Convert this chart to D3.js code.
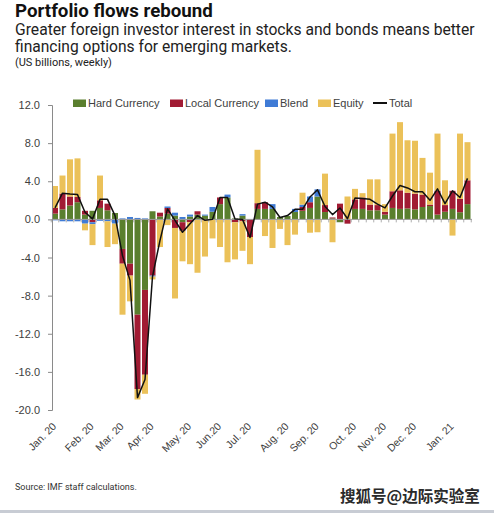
<!DOCTYPE html>
<html><head><meta charset="utf-8">
<script src="https://cdn.jsdelivr.net/npm/d3@7"></script>
<style>
html,body{margin:0;padding:0;background:#fff;}
svg{display:block;}
</style></head>
<body>
<svg id="chart" width="494" height="513"></svg>
<script>
// ---------------- DATA ----------------
const weeks = [
 "2020-01-03","2020-01-10","2020-01-17","2020-01-24","2020-01-31","2020-02-07","2020-02-14","2020-02-21","2020-02-28",
 "2020-03-06","2020-03-13","2020-03-20","2020-03-27","2020-04-03","2020-04-10","2020-04-17","2020-04-24","2020-05-01",
 "2020-05-08","2020-05-15","2020-05-22","2020-05-29","2020-06-05","2020-06-12","2020-06-19","2020-06-26","2020-07-03",
 "2020-07-10","2020-07-17","2020-07-24","2020-07-31","2020-08-07","2020-08-14","2020-08-21","2020-08-28","2020-09-04",
 "2020-09-11","2020-09-18","2020-09-25","2020-10-02","2020-10-09","2020-10-16","2020-10-23","2020-10-30","2020-11-06",
 "2020-11-13","2020-11-20","2020-11-27","2020-12-04","2020-12-11","2020-12-18","2020-12-25","2021-01-01","2021-01-08",
 "2021-01-15","2021-01-22"];
const hardCurrency = [0.6,1.05,1.45,1.8,0.5,0.9,1.2,0.95,0.67,-3.1,-4.65,-10.0,-7.4,0.85,0.3,0.6,0.4,-0.3,0.3,0.5,0.4,0.8,1.6,2.3,0.1,0.4,0,1.1,1.1,1.1,0.25,0.35,0.77,0.9,1.2,2.4,0.77,0.1,-0.3,0,1.1,1.1,0.95,0.95,0.5,1.2,1.1,1.15,1.05,1.3,1.4,0.5,0.8,1.1,0.75,1.6];
const localCurrency = [0.6,1.65,0.95,0.55,0.4,-0.3,0.8,0.7,0,-1.55,-1.25,-7.8,-8.9,-5.9,0.4,0.6,-0.9,-0.9,-0.3,0.35,-0.1,0,0.7,0,-0.3,-0.2,-1.85,0.6,0.7,0,0,0,0,0.4,0.6,0,0.73,0.1,1.65,-0.45,1.0,1.2,0.6,0.55,0.3,1.75,1.95,1.65,1.65,1.3,0.15,2.5,0.7,1.9,1.4,2.5];
const blend = [-0.1,-0.2,-0.2,-0.2,-0.45,-0.2,-0.15,-0.2,-0.45,0.1,0.25,0.15,0.1,-0.1,0,0.15,0.3,0.25,0.2,0,0.1,0.5,0,0.3,0,0.15,0,0,0,0.5,0,0,0.33,0.25,0.6,0.75,0,0,0,0,0,0,0,0,0,0,0,0,0,0,0,0,0,0,0,0];
const equity = [2.3,1.9,3.9,4.05,-0.7,-2.2,2.6,-2.7,-2.15,-5.35,-2.7,-1.1,-2.0,-0.3,-2.9,-0.6,-7.4,-3.2,-4.4,-5.6,-3.8,-2.0,-2.9,-4.5,-3.9,-3.1,-2.85,5.6,-1.75,-3.0,-1.0,-2.7,-1.6,1.25,-1.4,-1.35,3.3,-2.4,0,2.4,1.1,0.45,2.65,2.7,0.8,6.05,7.15,5.5,5.55,3.85,3.35,6.0,2.6,-1.7,6.85,4.0];
const total = [1.2,2.75,2.65,2.6,0.75,0.05,2.1,2.1,0.4,-3.8,-6.4,-18.7,-16.8,-6.0,-2.2,1.1,-0.1,-1.35,-0.45,0.4,-0.1,0.0,2.3,2.3,0.05,0.0,-1.9,1.6,1.8,1.3,0.2,0.4,1.05,1.05,2.35,3.1,1.35,0.5,1.2,0.07,2.25,2.2,2.1,1.6,1.2,2.45,3.55,3.3,2.9,2.9,2.0,3.2,1.65,3.0,2.3,4.3];

const seriesNames = ["Hard Currency","Local Currency","Blend","Equity"];
const seriesColors = ["#5a7f2e","#a11b33","#3f7bd6","#ebc159"];
const yTicks = [12,8,4,0,-4,-8,-12,-16,-20];
const monthTickWeeks = ["2020-01-03","2020-02-07","2020-03-06","2020-04-03","2020-05-08","2020-06-05","2020-07-03","2020-08-07","2020-09-04","2020-10-09","2020-11-06","2020-12-04","2021-01-08"];
const monthTickLabels = ["Jan. 20","Feb. 20","Mar. 20","Apr. 20","May. 20","Jun.20","Jul. 20","Aug. 20","Sep. 20","Oct. 20","Nov. 20","Dec. 20","Jan. 21"];

// ---------------- CHART ----------------
const svg = d3.select("#chart");
const FONT = "Roboto, 'Liberation Sans', Arial, sans-serif";
const AXFONT = "'Liberation Sans', Arial, sans-serif";

function fitText(sel, target){
  const base = 20;
  sel.attr("font-size", base);
  const w = sel.node().getComputedTextLength();
  sel.attr("font-size", base * target / w);
  return sel;
}

// titles
fitText(svg.append("text").attr("x",15).attr("y",17).attr("font-family",FONT).attr("font-weight","bold").attr("fill","#111").text("Portfolio flows rebound"),198);
fitText(svg.append("text").attr("x",15).attr("y",35).attr("font-family",FONT).attr("fill","#222").text("Greater foreign investor interest in stocks and bonds means better"),460);
fitText(svg.append("text").attr("x",15).attr("y",52).attr("font-family",FONT).attr("fill","#222").text("financing options for emerging markets."),277);
fitText(svg.append("text").attr("x",15).attr("y",66).attr("font-family",FONT).attr("fill","#222").text("(US billions, weekly)"),97);

// scales
const x = d3.scaleBand().domain(weeks).range([51.25,471.25]).paddingInner(0.2).paddingOuter(0.1);
const y = d3.scaleLinear().domain([-20,12]).range([410,105]);

const rows = weeks.map((w,i)=>({week:w,"Hard Currency":hardCurrency[i],"Local Currency":localCurrency[i],"Blend":blend[i],"Equity":equity[i]}));
const stack = d3.stack().keys(seriesNames).offset(d3.stackOffsetDiverging);
const stacked = stack(rows);

const g = svg.append("g");
stacked.forEach((s,k)=>{
  g.append("g").attr("fill",seriesColors[k]).selectAll("rect").data(s).join("rect")
    .attr("x",d=>x(d.data.week))
    .attr("width",x.bandwidth())
    .attr("y",d=>y(Math.max(d[0],d[1])))
    .attr("height",d=>Math.abs(y(d[0])-y(d[1])));
});

// zero axis with category ticks
const zeroY = y(0);
const xa = svg.append("g").attr("transform",`translate(0,${zeroY})`);
xa.append("line").attr("x1",52).attr("x2",472).attr("y1",0).attr("y2",0).attr("stroke","#9a9a9a").attr("stroke-width",1);
xa.selectAll("line.tk").data(d3.range(weeks.length+1)).join("line").attr("class","tk")
  .attr("x1",i=>x(weeks[0]) - x.step()*x.paddingInner()/2 + i*x.step())
  .attr("x2",i=>x(weeks[0]) - x.step()*x.paddingInner()/2 + i*x.step())
  .attr("y1",0).attr("y2",3).attr("stroke","#9a9a9a").attr("stroke-width",0.8);

// y axis
const yAxis = d3.axisLeft(y).tickValues(yTicks).tickSize(4).tickFormat(d3.format(".1f"));
const ya = svg.append("g").attr("transform","translate(52,0)").call(yAxis);
ya.select(".domain").attr("stroke","#8a8a8a");
ya.selectAll(".tick line").attr("stroke","#8a8a8a");
ya.selectAll(".tick text").attr("font-family",AXFONT).attr("font-size",11).attr("fill","#404040").attr("x",-12).text(d=>d3.format(".1f")(d).replace("−","-"));

// total line
const line = d3.line().x((d,i)=>x(weeks[i])+x.bandwidth()/2).y(d=>y(d));
svg.append("path").datum(total).attr("d",line).attr("fill","none").attr("stroke","#111").attr("stroke-width",1.5).attr("stroke-linejoin","round");

// month labels
svg.append("g").selectAll("text").data(monthTickWeeks).join("text")
  .attr("transform",(w)=>`translate(${x(w)+x.bandwidth()/2+2},${427}) rotate(-45)`)
  .attr("text-anchor","end").attr("font-family",AXFONT).attr("font-size",10.5).attr("fill","#404040")
  .text((w,i)=>monthTickLabels[i]);

// legend
const legendX = [73,170,265,318];
seriesNames.forEach((n,k)=>{
  svg.append("rect").attr("x",legendX[k]).attr("y",99.5).attr("width",13).attr("height",7.5).attr("fill",seriesColors[k]);
  svg.append("text").attr("x",legendX[k]+15).attr("y",107).attr("font-family",AXFONT).attr("font-size",11).attr("fill","#404040").text(n);
});
svg.append("line").attr("x1",373).attr("x2",387).attr("y1",103).attr("y2",103).attr("stroke","#111").attr("stroke-width",2);
svg.append("text").attr("x",389).attr("y",107).attr("font-family",AXFONT).attr("font-size",11).attr("fill","#404040").text("Total");

// source
fitText(svg.append("text").attr("x",15).attr("y",490).attr("font-family",FONT).attr("fill","#333").text("Source: IMF staff calculations."),122);

// watermark
fitText(svg.append("text").attr("x",340).attr("y",502).attr("font-family","'Noto Sans CJK SC', sans-serif").attr("font-weight","bold").attr("fill","#2a2a2a")
  .attr("stroke","#fff").attr("stroke-width",1.5).attr("paint-order","stroke").text("搜狐号@边际实验室"),140);

// bottom bar
svg.append("rect").attr("x",0).attr("y",510).attr("width",494).attr("height",3).attr("fill","#c8ccd4");
</script>
</body></html>
